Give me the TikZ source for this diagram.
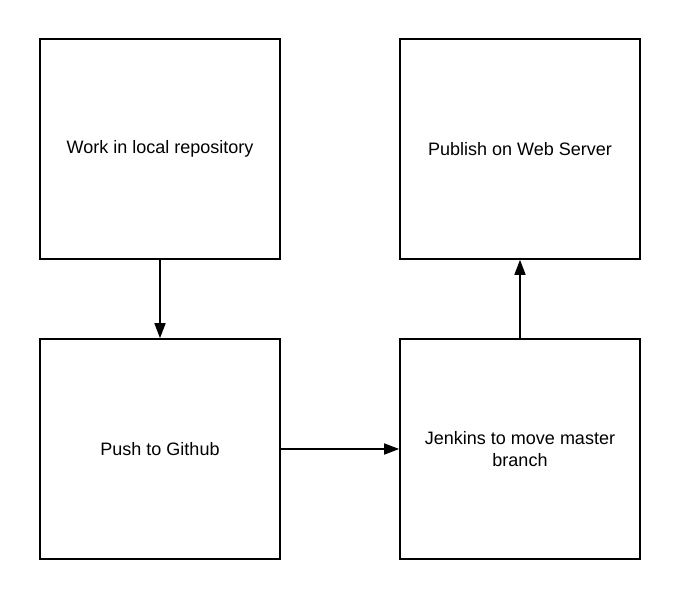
\documentclass[tikz,border=0pt]{standalone}
\usepackage{fontspec}
\setmainfont{Liberation Sans}
\usetikzlibrary{arrows.meta}
\tikzset{
  stepbox/.style={draw=black, line width=1.6pt, fill=white, minimum width=240pt, minimum height=220pt,
    align=center, inner sep=0pt, font=\fontsize{18pt}{21.5pt}\selectfont},
  conn/.style={line width=1.6pt, -{Triangle[length=15pt,width=11pt]}}
}
\begin{document}
\begin{tikzpicture}[x=1pt,y=-1pt]
\useasboundingbox[fill=white] (0,0) rectangle (680,600);
\node[stepbox] (work) at (160,149) {Work in local repository};
\node[stepbox] (pub) at (520,149) {Publish on Web Server};
\node[stepbox] (push) at (160,449) {Push to Github};
\node[stepbox] (jen) at (520,449) {Jenkins to move master\\branch};
\draw[conn] (work) -- (push);
\draw[conn] (push) -- (jen);
\draw[conn] (jen) -- (pub);
\end{tikzpicture}
\end{document}
